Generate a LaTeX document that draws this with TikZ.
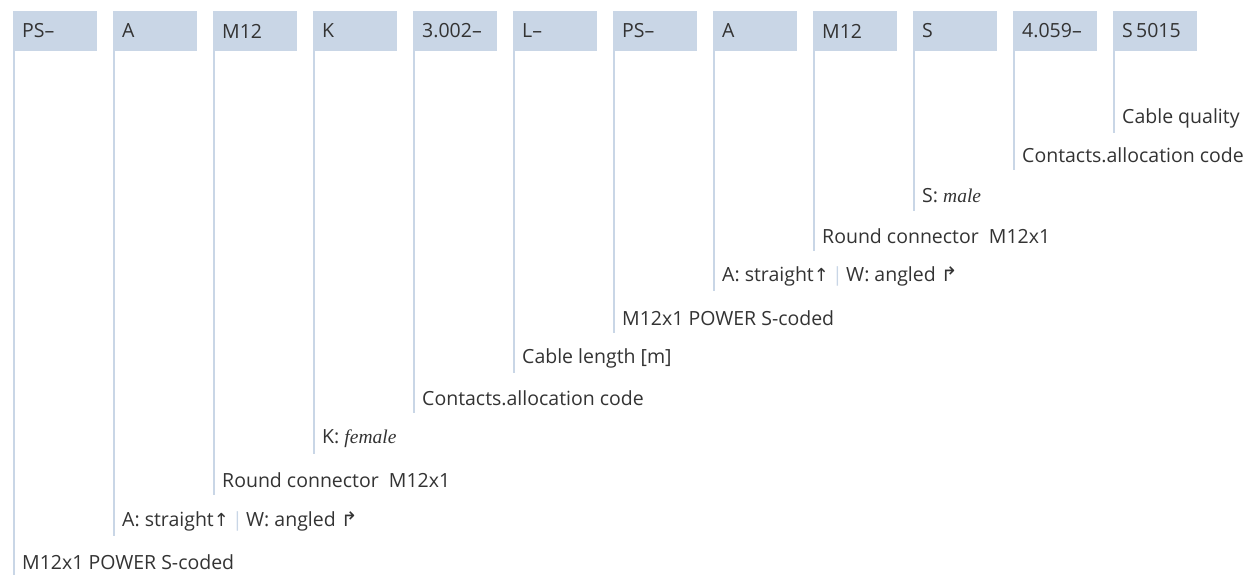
\documentclass[tikz,border=0pt]{standalone}
\usepackage{fontspec}
\setmainfont{Open Sans}
\newfontfamily\itfam{Liberation Serif}
\newfontfamily\symfam{DejaVu Sans}
\definecolor{boxblue}{HTML}{C9D6E6}
\definecolor{txt}{HTML}{333333}
\newcommand{\upar}{{\symfam\fontsize{18}{20}\selectfont ↑}}
\newcommand{\angar}{{\symfam\fontsize{20}{22}\selectfont ↱}}
\tikzset{
  codebox/.style={fill=boxblue, minimum width=84pt, minimum height=40pt, inner sep=0pt, anchor=north west},
  codetext/.style={font=\fontsize{19.5}{22}\selectfont, text=txt, anchor=west, inner sep=0pt},
  lbl/.style={font=\fontsize{19.5}{22}\selectfont, text=txt, anchor=west, inner sep=0pt},
  leader/.style={draw=boxblue, line width=2pt},
}
\begin{document}
\begin{tikzpicture}[x=1pt,y=-1pt]
\useasboundingbox (0,0) rectangle (1249,574);
\foreach \i/\t in {0/{PS--},1/{A},2/{M12},3/{K},4/{3.002--},5/{L--},6/{PS--},7/{A},8/{M12},9/{S},10/{4.059--},11/{S\,5015}} {
  \node[codebox] (b\i) at (13+100*\i,11) {};
  \node[codetext] (t\i) at (22+100*\i,31) {\t};
}
\foreach \i/\y/\t in {
  11/118/{Cable quality},
  10/155/{Contacts.allocation code},
  9/196/{S: {\itfam\itshape male}},
  8/236/{Round connector\ \ M12x1},
  7/276/{A: straight\upar\,{\color{boxblue}|}\,W: angled \angar},
  6/318/{M12x1 POWER S-coded},
  5/358/{Cable length [m]},
  4/398/{Contacts.allocation code},
  3/439/{K: {\itfam\itshape female}},
  2/480/{Round connector\ \ M12x1},
  1/521/{A: straight\upar\,{\color{boxblue}|}\,W: angled \angar},
  0/562/{M12x1 POWER S-coded}} {
  \node[lbl] (l\i) at (22+100*\i,\y) {\t};
  \coordinate (e\i) at (14+100*\i,\y+15);
  \path (b\i.south west) ++(1,0) coordinate (s\i);
  \draw[leader] (s\i) -- (s\i |- e\i);
}
\end{tikzpicture}
\end{document}
